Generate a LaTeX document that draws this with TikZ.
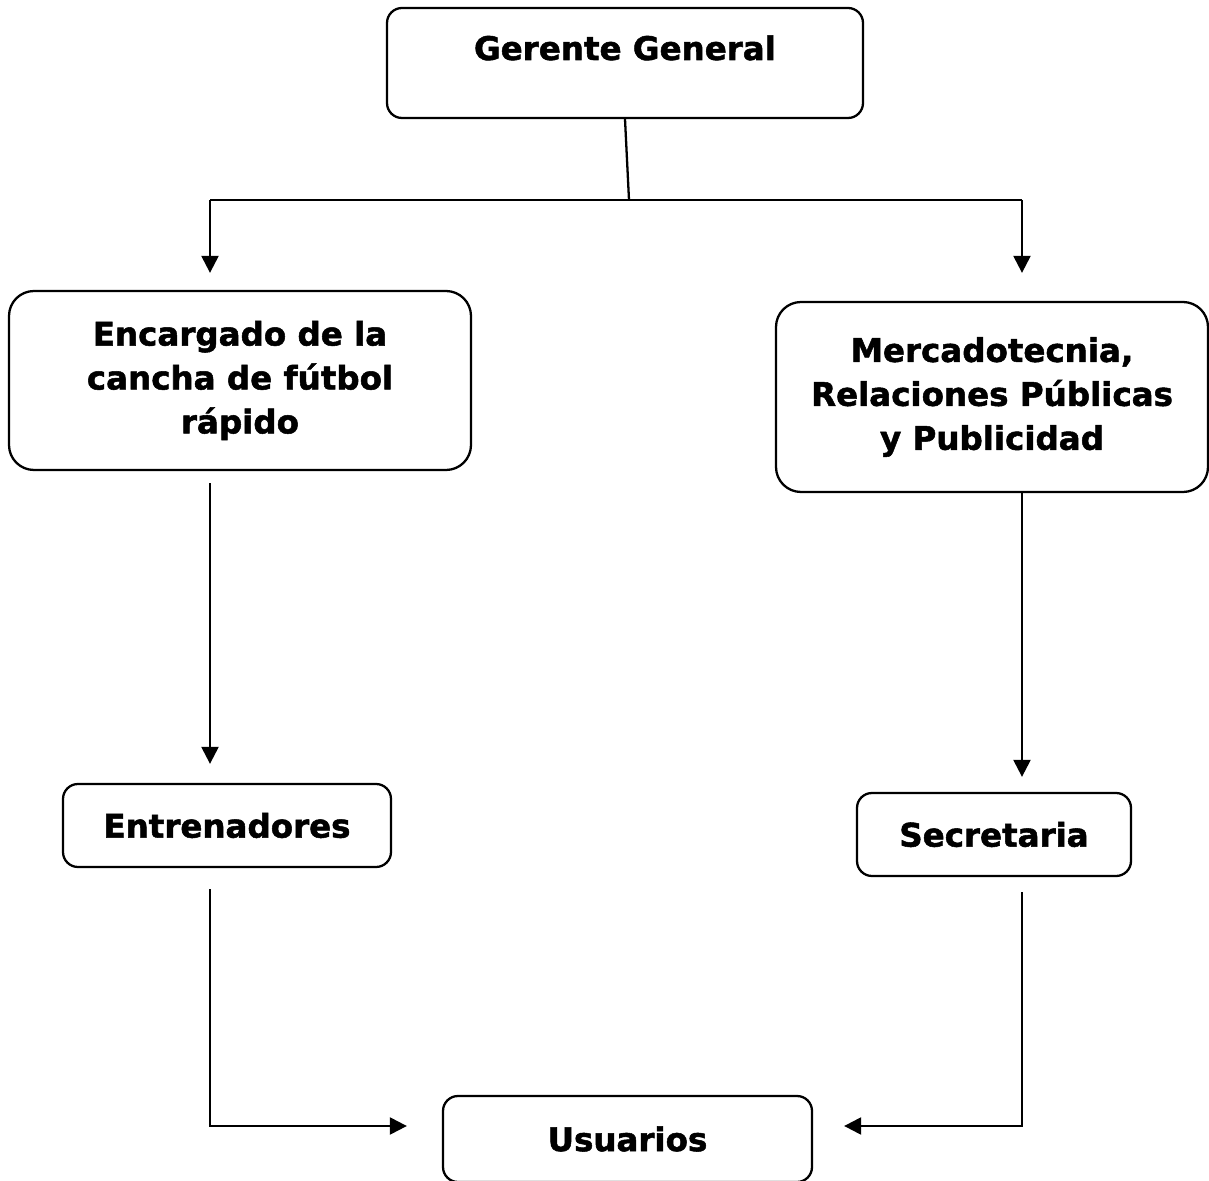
\documentclass[tikz,border=0pt]{standalone}
\usepackage{fontspec}
\setmainfont{DejaVu Sans}[BoldFeatures={FakeBold=1.6}]
\usetikzlibrary{arrows.meta}

\begin{document}
\begin{tikzpicture}[
    box/.style={draw, line width=1.3pt, rounded corners=0.3cm, align=center,
      font=\fontsize{18.5}{25}\selectfont\bfseries, inner sep=0pt},
    link/.style={line width=1.3pt},
    arrow/.style={link, -{Triangle[length=0.34cm, width=0.34cm]}}
  ]
  \useasboundingbox (0,0) rectangle (24.18,-23.62);

  % Boxes
  \node[box, minimum width=9.52cm, minimum height=2.2cm, text height=1.04cm,
    text depth=1.16cm] (gerente) at (12.5,-1.26) {Gerente General};
  \node[box, rounded corners=0.5cm, minimum width=9.24cm, minimum height=3.58cm]
    (encargado) at (4.8,-7.61) {Encargado de la\\cancha de fútbol\\rápido};
  \node[box, rounded corners=0.5cm, minimum width=8.64cm, minimum height=3.8cm]
    (merca) at (19.84,-7.94) {Mercadotecnia,\\Relaciones Públicas\\y Publicidad};
  \node[box, minimum width=6.56cm, minimum height=1.66cm] (entrenadores)
    at (4.54,-16.51) {Entrenadores};
  \node[box, minimum width=5.48cm, minimum height=1.66cm] (secretaria)
    at (19.88,-16.69) {Secretaria};
  \node[box, minimum width=7.38cm, minimum height=1.72cm] (usuarios)
    at (12.55,-22.78) {Usuarios};

  % Joints
  \coordinate (split) at (12.58,-4.0);
  \coordinate (lt) at (4.2,-4.0);
  \coordinate (rt) at (20.44,-4.0);
  \coordinate (ljoin) at (4.2,-22.52);
  \coordinate (rjoin) at (20.44,-22.52);

  % Top branch
  \draw[link] (gerente.south) -- (split);
  \draw[link] (lt) -- (rt);
  \draw[arrow, shorten >=0.34cm] (lt) -- (encargado.north -| lt);
  \draw[arrow, shorten >=0.56cm] (rt) -- (merca.north -| rt);

  % Middle
  \draw[arrow, shorten <=0.24cm, shorten >=0.38cm]
    (encargado.south -| lt) -- (entrenadores.north -| lt);
  \draw[arrow, shorten >=0.3cm] (merca.south -| rt) -- (secretaria.north -| rt);

  % Down to Usuarios
  \draw[arrow, shorten >=0.7cm] ([yshift=-0.42cm]entrenadores.south -| ljoin)
    -- (ljoin) -- (ljoin -| usuarios.west);
  \draw[arrow, shorten >=0.62cm] ([yshift=-0.3cm]secretaria.south -| rjoin)
    -- (rjoin) -- (rjoin -| usuarios.east);
\end{tikzpicture}
\end{document}
